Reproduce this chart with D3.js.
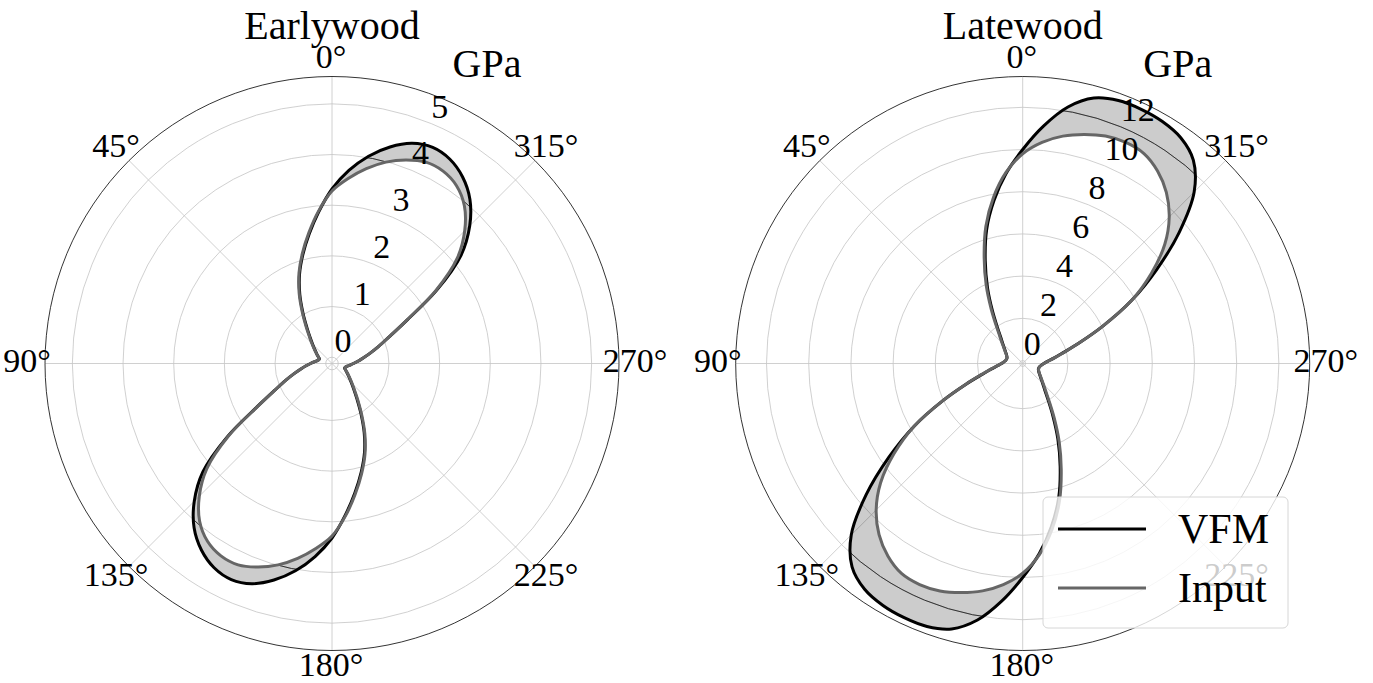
<!DOCTYPE html>
<html>
<head>
<meta charset="utf-8">
<script src="https://cdn.jsdelivr.net/npm/d3@7"></script>
<style>
  html, body { margin: 0; padding: 0; background: #fff; }
  text { font-family: "Liberation Serif", "DejaVu Serif", serif; fill: #000; }
</style>
</head>
<body>
<svg id="chart" width="1373" height="683"></svg>
<script>
// angles in degrees, counter-clockwise from the top (0° = north)
const angles = d3.range(0, 360, 5);

// Earlywood, GPa
const earlyVfm = [
  3.32, 2.88, 2.47, 2.10, 1.75, 1.38, 1.02, 0.74, 0.55, 0.42, 0.33, 0.26,
  0.21, 0.17, 0.14, 0.15, 0.18, 0.23, 0.30, 0.39, 0.50, 0.65, 0.85, 1.12,
  1.58, 2.40, 3.20, 3.72, 4.11, 4.37, 4.53, 4.58, 4.50, 4.30, 4.03, 3.70,
  3.32, 2.88, 2.47, 2.10, 1.75, 1.38, 1.02, 0.74, 0.55, 0.42, 0.33, 0.26,
  0.21, 0.17, 0.14, 0.15, 0.18, 0.23, 0.30, 0.39, 0.50, 0.65, 0.85, 1.12,
  1.58, 2.40, 3.20, 3.72, 4.11, 4.37, 4.53, 4.58, 4.50, 4.30, 4.03, 3.70
];
const earlyInput = [
  3.28, 2.90, 2.50, 2.13, 1.78, 1.41, 1.05, 0.77, 0.57, 0.44, 0.34, 0.27,
  0.21, 0.17, 0.145, 0.15, 0.18, 0.23, 0.30, 0.39, 0.50, 0.65, 0.85, 1.12,
  1.57, 2.37, 3.10, 3.58, 3.94, 4.16, 4.26, 4.26, 4.15, 3.99, 3.78, 3.54,
  3.28, 2.90, 2.50, 2.13, 1.78, 1.41, 1.05, 0.77, 0.57, 0.44, 0.34, 0.27,
  0.21, 0.17, 0.145, 0.15, 0.18, 0.23, 0.30, 0.39, 0.50, 0.65, 0.85, 1.12,
  1.57, 2.37, 3.10, 3.58, 3.94, 4.16, 4.26, 4.26, 4.15, 3.99, 3.78, 3.54
];

// Latewood, GPa
const lateVfm = [
  10.00, 8.90, 7.70, 6.45, 5.05, 3.80, 2.72, 1.95, 1.48, 1.20, 1.00, 0.86,
  0.76, 0.69, 0.65, 0.65, 0.68, 0.75, 0.86, 1.05, 1.38, 1.85, 2.70, 4.05,
  5.80, 7.60, 9.55, 11.35, 12.44, 12.92, 13.10, 13.15, 13.12, 12.88, 12.20, 11.15,
  10.00, 8.90, 7.70, 6.45, 5.05, 3.80, 2.72, 1.95, 1.48, 1.20, 1.00, 0.86,
  0.76, 0.69, 0.65, 0.65, 0.68, 0.75, 0.86, 1.05, 1.38, 1.85, 2.70, 4.05,
  5.80, 7.60, 9.55, 11.35, 12.44, 12.92, 13.10, 13.15, 13.12, 12.88, 12.20, 11.15
];
const lateInput = [
  9.80, 8.95, 7.85, 6.60, 5.20, 3.95, 2.85, 2.05, 1.55, 1.25, 1.03, 0.88,
  0.77, 0.70, 0.66, 0.66, 0.69, 0.76, 0.87, 1.06, 1.39, 1.88, 2.72, 4.05,
  5.80, 7.30, 8.65, 9.68, 10.45, 11.00, 11.35, 11.42, 11.33, 11.10, 10.80, 10.38,
  9.80, 8.95, 7.85, 6.60, 5.20, 3.95, 2.85, 2.05, 1.55, 1.25, 1.03, 0.88,
  0.77, 0.70, 0.66, 0.66, 0.69, 0.76, 0.87, 1.06, 1.39, 1.88, 2.72, 4.05,
  5.80, 7.30, 8.65, 9.68, 10.45, 11.00, 11.35, 11.42, 11.33, 11.10, 10.80, 10.38
];

const earlyTicks = [0, 1, 2, 3, 4, 5];
const lateTicks = [0, 2, 4, 6, 8, 10, 12];
const thetaTicks = [0, 45, 90, 135, 180, 225, 270, 315];

const svg = d3.select("#chart");
const R = 287;
const toRad = deg => -deg * Math.PI / 180;   // d3 angles run clockwise

function drawPanel(cx, cy, title, rDomain, rTicks, vfm, input, darkR, id) {
  const r = d3.scaleLinear().domain(rDomain).range([0, R]);
  const g = svg.append("g").attr("transform", `translate(${cx},${cy})`);

  // grid
  g.selectAll(".ring").data(rTicks).enter().append("circle")
    .attr("r", d => r(d))
    .attr("fill", "none").attr("stroke", "#c4c4c4").attr("stroke-width", 0.8);
  g.selectAll(".spoke").data(thetaTicks).enter().append("line")
    .attr("x1", 0).attr("y1", 0)
    .attr("x2", d => R * Math.sin(toRad(d)))
    .attr("y2", d => -R * Math.cos(toRad(d)))
    .attr("stroke", "#c4c4c4").attr("stroke-width", 0.8);
  g.append("circle").attr("r", R).attr("fill", "none")
    .attr("stroke", "#000").attr("stroke-width", 0.8);

  const line = d3.lineRadial()
    .angle((d, i) => toRad(angles[i]))
    .radius(d => r(d))
    .curve(d3.curveCatmullRomClosed.alpha(0.5));

  const between = line(vfm) + line(input);
  g.append("path").attr("d", between)
    .attr("fill", "#000").attr("fill-opacity", 0.2).attr("fill-rule", "evenodd");

  svg.append("clipPath").attr("id", "clip" + id)
    .append("path").attr("d", between).attr("clip-rule", "evenodd");
  g.append("circle").attr("r", r(darkR)).attr("fill", "none")
    .attr("stroke", "#333").attr("stroke-width", 1)
    .attr("clip-path", `url(#clip${id})`);

  g.append("path").attr("d", line(vfm))
    .attr("fill", "none").attr("stroke", "#000").attr("stroke-width", 3);
  g.append("path").attr("d", line(input))
    .attr("fill", "none").attr("stroke", "#666").attr("stroke-width", 3);

  // radial tick labels along 22.5° clockwise
  const la = 22.5 * Math.PI / 180;
  g.selectAll(".rl").data(rTicks).enter().append("text")
    .attr("x", d => r(d) * Math.sin(la))
    .attr("y", d => -r(d) * Math.cos(la) - 6)
    .attr("font-size", 34)
    .text(d => d);

  // angle labels
  g.selectAll(".tl").data(thetaTicks).enter().append("text")
    .attr("x", d => 304 * Math.sin(toRad(d)) - 1)
    .attr("y", d => -304 * Math.cos(toRad(d)) - 3.5)
    .attr("text-anchor", "middle").attr("dominant-baseline", "central")
    .attr("font-size", 34)
    .text(d => d + "°");

  g.append("text").attr("x", 0).attr("y", 39 - cy)
    .attr("text-anchor", "middle").attr("font-size", 40).text(title);
  g.append("text").attr("x", 155).attr("y", 77 - cy)
    .attr("text-anchor", "middle").attr("font-size", 40).text("GPa");
}

drawPanel(332, 363.5, "Earlywood", [-0.124, 5.54], earlyTicks, earlyVfm, earlyInput, 4, "e");
drawPanel(1022.7, 363.5, "Latewood", [-0.14, 13.46], lateTicks, lateVfm, lateInput, 12, "l");

// legend
const lg = svg.append("g");
lg.append("rect").attr("x", 1043).attr("y", 497).attr("width", 245).attr("height", 131)
  .attr("rx", 5).attr("fill", "#fff").attr("fill-opacity", 0.8)
  .attr("stroke", "#d6d6d6").attr("stroke-width", 1);
const legendItems = [
  { label: "VFM", color: "#000", y: 529 },
  { label: "Input", color: "#666", y: 588 }
];
legendItems.forEach(d => {
  lg.append("line").attr("x1", 1058).attr("x2", 1146).attr("y1", d.y).attr("y2", d.y)
    .attr("stroke", d.color).attr("stroke-width", 3);
  lg.append("text").attr("x", 1178).attr("y", d.y + 14)
    .attr("font-size", 42).text(d.label);
});
</script>
</body>
</html>
